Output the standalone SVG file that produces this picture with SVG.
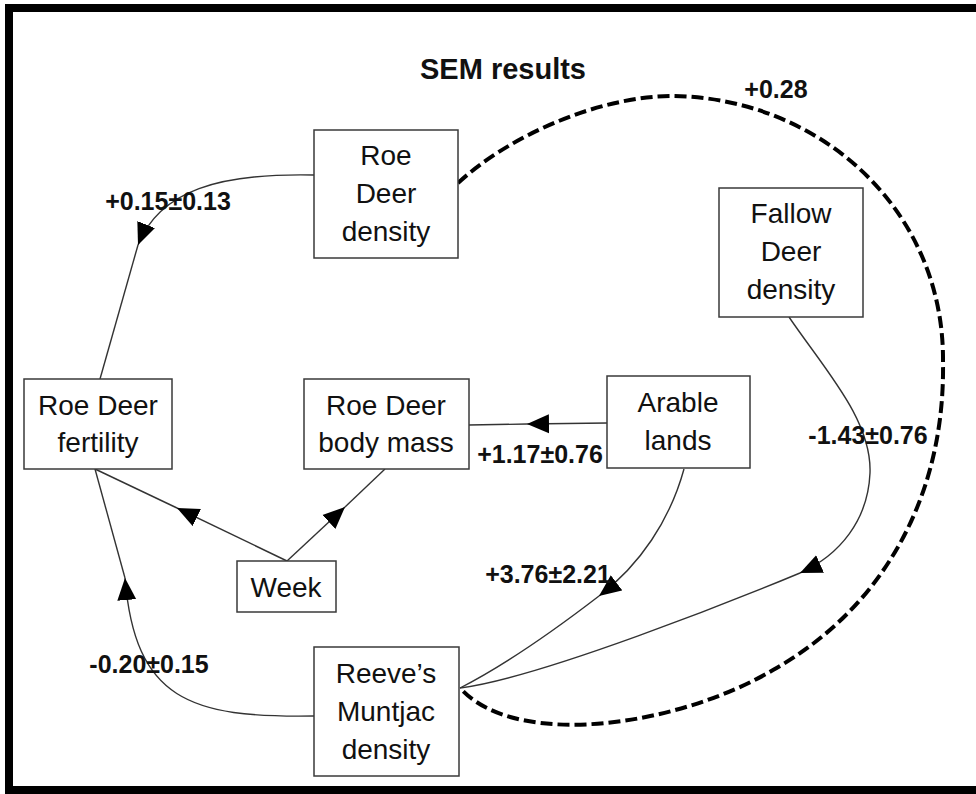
<svg xmlns="http://www.w3.org/2000/svg" width="976" height="794" viewBox="0 0 976 794">
<defs>
<style>
.box{fill:#fff;stroke:#3a3a3a;stroke-width:1.5}
.nt{font-family:"Liberation Sans",Arial,sans-serif;font-size:28px;fill:#111;text-anchor:middle}
.lb{font-family:"Liberation Sans",Arial,sans-serif;font-size:25px;font-weight:bold;fill:#111;text-anchor:middle}
.edge{fill:none;stroke:#333;stroke-width:1.4}
.head{marker-end:url(#arr)}
.corr{fill:none;stroke:#000;stroke-width:4;stroke-dasharray:12 5}
</style>
<marker id="arr" viewBox="-22 -10 22 20" refX="0" refY="0" markerWidth="22" markerHeight="20" markerUnits="userSpaceOnUse" orient="auto">
<path d="M0,0 L-22,-9.5 L-22,9.5 Z" fill="#000"/>
</marker>
</defs>
<rect x="9" y="8" width="1000" height="782" fill="#fff" stroke="#000" stroke-width="8"/>
<text x="503" y="79" class="lb" style="font-size:29px">SEM results</text>
<g id="connectors">
<path class="edge head" d="M314,175 C220,173 160,190 138,245"/>
<path class="edge" d="M138,245 L100,379"/>
<path class="edge head" d="M287,561 L177,508"/>
<path class="edge" d="M177,508 L95,469"/>
<path class="edge head" d="M287,561 L345,507"/>
<path class="edge" d="M345,507 L385,469"/>
<path class="edge head" d="M607,423 L527,424"/>
<path class="edge" d="M527,424 L469,425"/>
<path class="edge head" d="M684,469 C670,520 640,565 599,596"/>
<path class="edge" d="M599,596 C560,626 505,665 460,688"/>
<path class="edge head" d="M789,317 C825,370 872,420 870,473 C868,520 840,555 800,573"/>
<path class="edge" d="M800,573 C740,598 540,678 460,688"/>
<path class="edge head" d="M314,716 C190,718 135,700 125,578"/>
<path class="edge" d="M125,578 L95,469"/>
<path class="corr" d="M458,183 C510,135 600,96 673,96 C820,98 945,210 943,363 C945,500 880,610 773,670 C680,725 520,750 462,690"/>
<text x="776" y="98" class="lb">+0.28</text>
<text x="168" y="210" class="lb">+0.15±0.13</text>
<text x="868" y="444" class="lb">-1.43±0.76</text>
<text x="540" y="463" class="lb">+1.17±0.76</text>
<text x="548" y="583" class="lb">+3.76±2.21</text>
<text x="149" y="673" class="lb">-0.20±0.15</text>
</g>
<g id="roe-density">
<rect class="box" x="314" y="130" width="144" height="128"/>
<text class="nt" x="386" y="165">Roe</text>
<text class="nt" x="386" y="203">Deer</text>
<text class="nt" x="386" y="241">density</text>
</g>
<g id="fallow-density">
<rect class="box" x="719" y="188" width="144" height="129"/>
<text class="nt" x="791" y="223">Fallow</text>
<text class="nt" x="791" y="261">Deer</text>
<text class="nt" x="791" y="299">density</text>
</g>
<g id="arable">
<rect class="box" x="607" y="376" width="143" height="92"/>
<text class="nt" x="678" y="412">Arable</text>
<text class="nt" x="678" y="450">lands</text>
</g>
<g id="body-mass">
<rect class="box" x="304" y="379" width="165" height="90"/>
<text class="nt" x="386" y="415">Roe Deer</text>
<text class="nt" x="386" y="452">body mass</text>
</g>
<g id="fertility">
<rect class="box" x="24" y="379" width="148" height="90"/>
<text class="nt" x="98" y="415">Roe Deer</text>
<text class="nt" x="98" y="452">fertility</text>
</g>
<g id="week">
<rect class="box" x="237" y="561" width="99" height="51"/>
<text class="nt" x="286" y="597">Week</text>
</g>
<g id="muntjac">
<rect class="box" x="314" y="647" width="145" height="129"/>
<text class="nt" x="386" y="683">Reeve’s</text>
<text class="nt" x="386" y="721">Muntjac</text>
<text class="nt" x="386" y="759">density</text>
</g>
</svg>
